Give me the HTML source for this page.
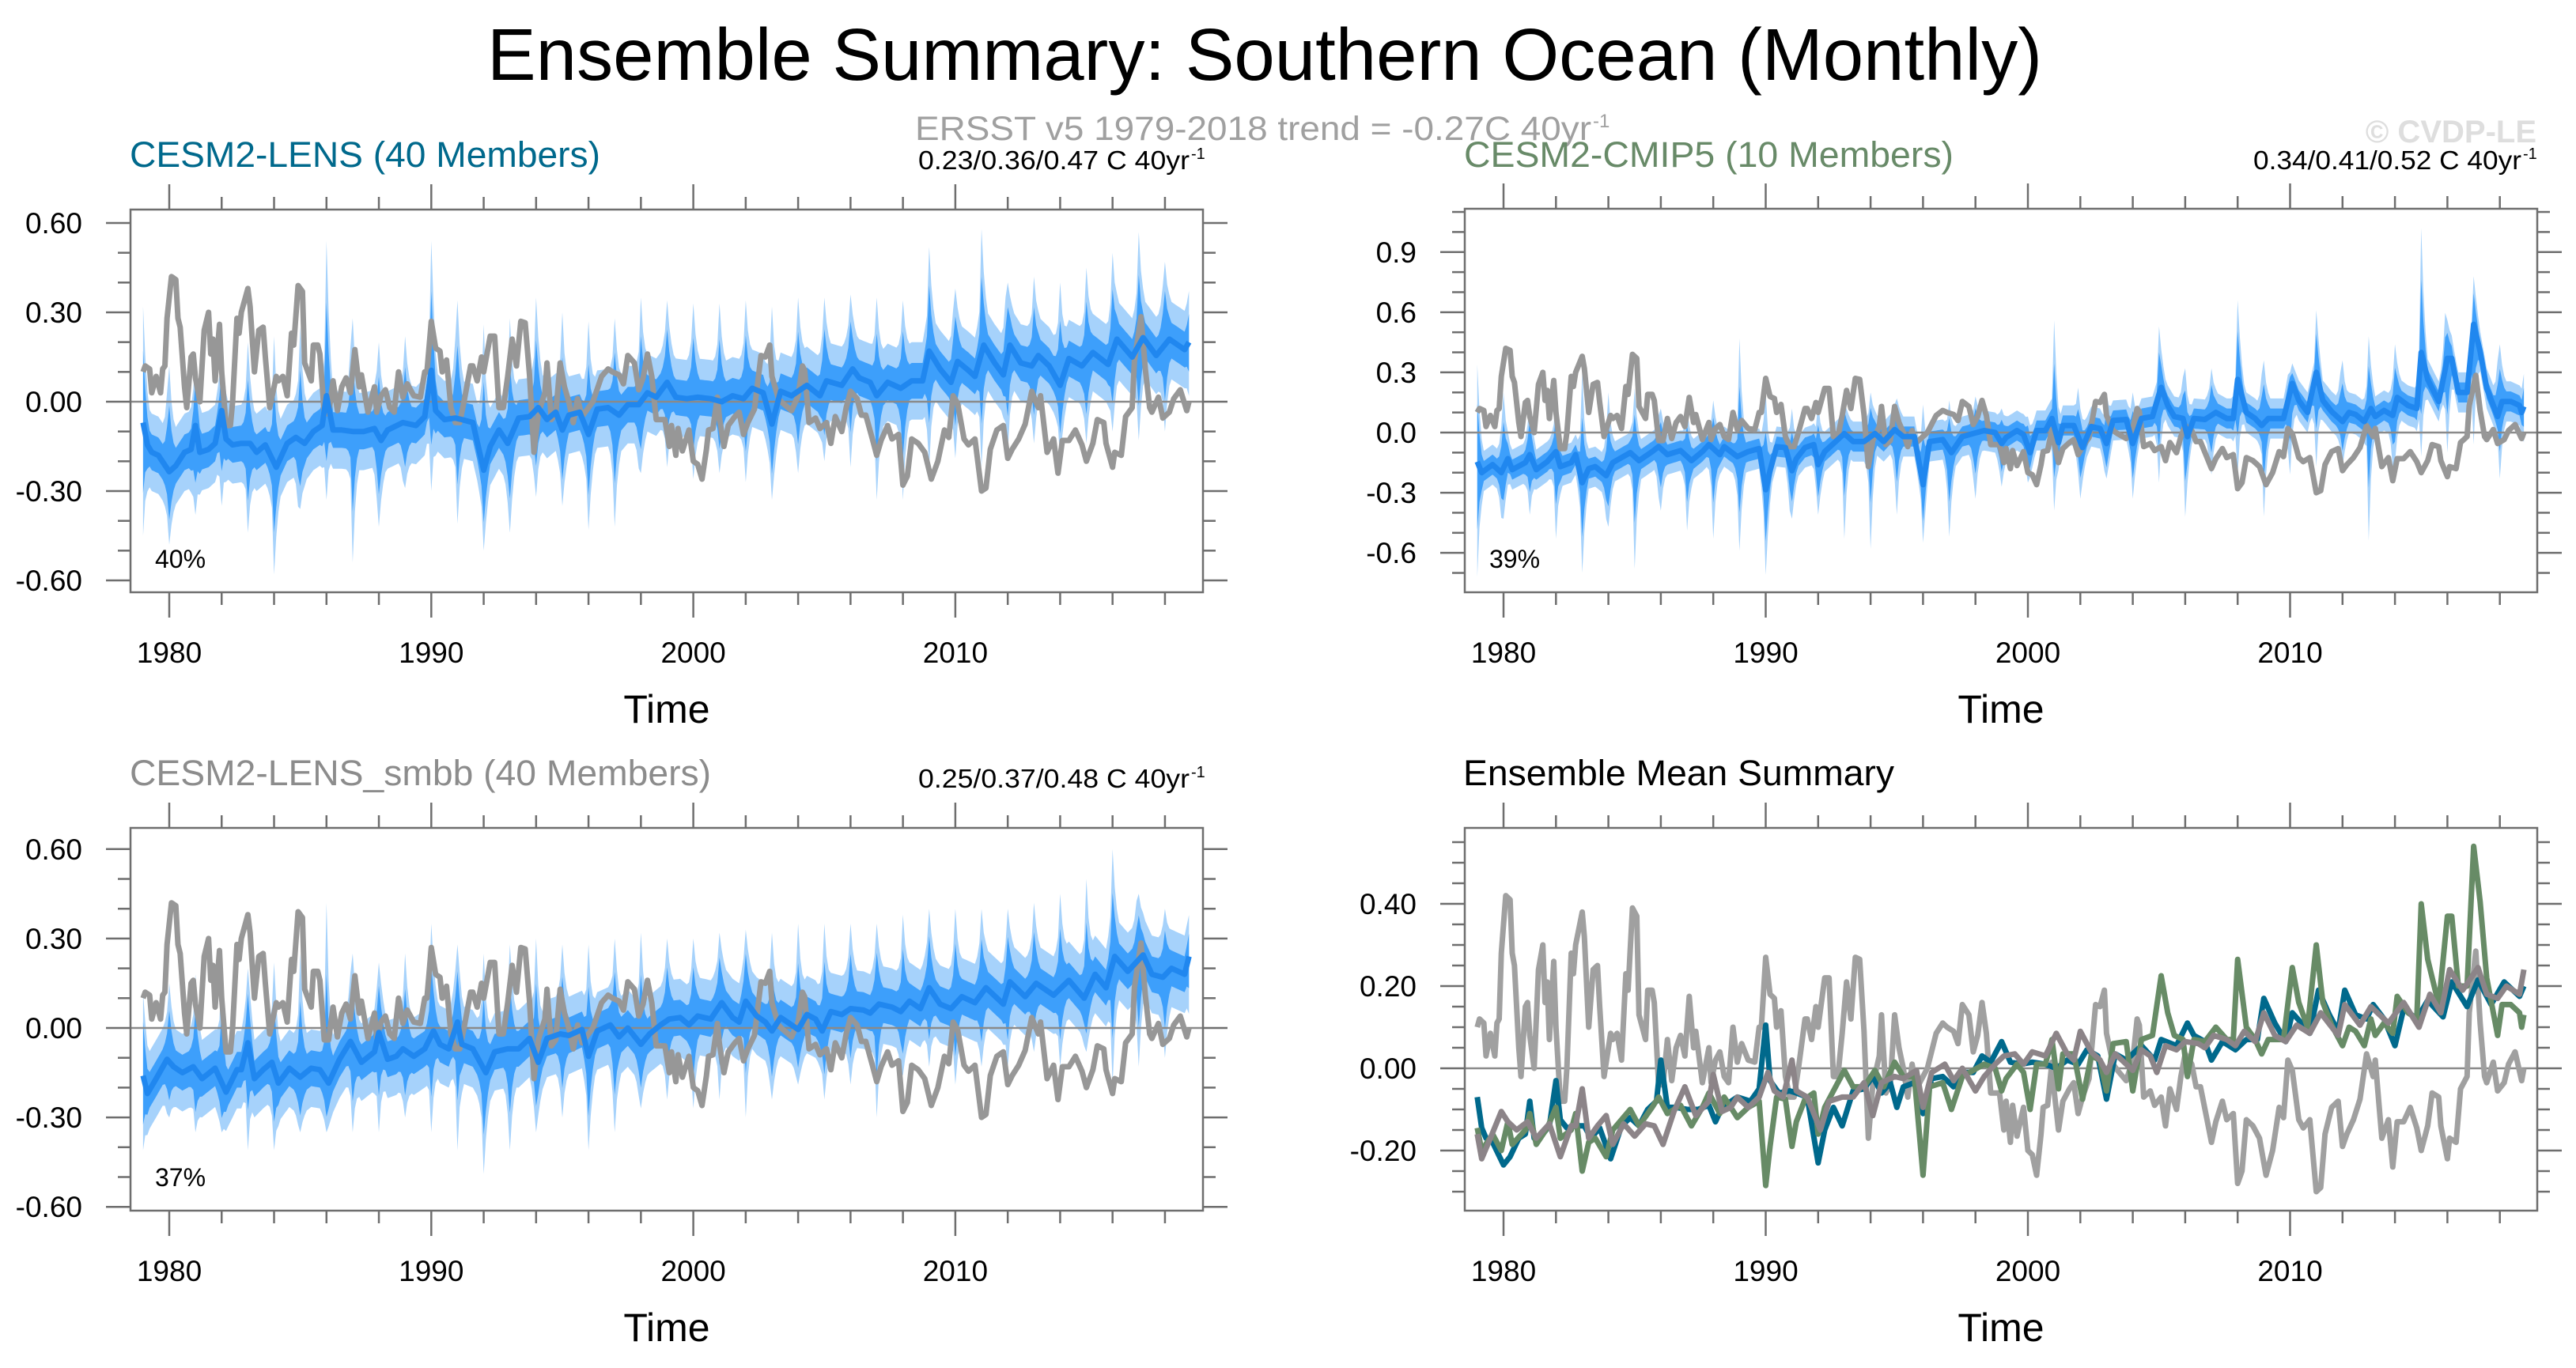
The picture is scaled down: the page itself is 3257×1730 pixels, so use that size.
<!DOCTYPE html>
<html><head><meta charset="utf-8"><title>Ensemble Summary: Southern Ocean (Monthly)</title>
<style>
html,body{margin:0;padding:0;background:#fff;}
svg{display:block;font-family:"Liberation Sans",Arial,sans-serif;}
</style></head>
<body>
<svg id="chart" width="3257" height="1730" viewBox="0 0 3257 1730" xmlns="http://www.w3.org/2000/svg">
<rect x="0" y="0" width="3257" height="1730" fill="#fff"/>
<text x="616" y="101" font-size="93" fill="#000" textLength="1966" lengthAdjust="spacingAndGlyphs">Ensemble Summary: Southern Ocean (Monthly)</text>
<text x="1157" y="177" font-size="43" fill="#a0a0a0" textLength="855" lengthAdjust="spacingAndGlyphs">ERSST v5 1979-2018 trend = -0.27C 40yr</text>
<text x="2014" y="161" font-size="24" fill="#a0a0a0">-1</text>
<text x="3207" y="180" font-size="40" font-weight="bold" fill="#dedede" text-anchor="end">© CVDP-LE</text>

<text x="164" y="211" font-size="45" fill="#00698c" textLength="595" lengthAdjust="spacingAndGlyphs">CESM2-LENS (40 Members)</text>
<text x="1161" y="214" font-size="33" fill="#000" textLength="343" lengthAdjust="spacingAndGlyphs">0.23/0.36/0.47 C 40yr</text>
<text x="1506" y="201" font-size="20" fill="#000">-1</text>
<text x="1851" y="211" font-size="45" fill="#688a68" textLength="619" lengthAdjust="spacingAndGlyphs">CESM2-CMIP5 (10 Members)</text>
<text x="2849" y="214" font-size="33" fill="#000" textLength="339" lengthAdjust="spacingAndGlyphs">0.34/0.41/0.52 C 40yr</text>
<text x="3190" y="201" font-size="20" fill="#000">-1</text>
<text x="164" y="993" font-size="45" fill="#8c8c8c" textLength="735" lengthAdjust="spacingAndGlyphs">CESM2-LENS_smbb (40 Members)</text>
<text x="1161" y="996" font-size="33" fill="#000" textLength="343" lengthAdjust="spacingAndGlyphs">0.25/0.37/0.48 C 40yr</text>
<text x="1506" y="983" font-size="20" fill="#000">-1</text>
<text x="1850" y="993" font-size="45" fill="#000" textLength="545" lengthAdjust="spacingAndGlyphs">Ensemble Mean Summary</text>
<g id="panels"></g>
</svg>
<script>
// ===== data =====
const xMajorYears = [1980, 1990, 2000, 2010];
const xMajorLabels = ["1980", "1990", "2000", "2010"];
const xMinorYears = [1982,1984,1986,1988,1992,1994,1996,1998,2002,2004,2006,2008,2012,2014,2016,2018];
const yTicksA = [-0.6, -0.3, 0, 0.3, 0.6];
const yLabelsA = ["-0.60", "-0.30", "0.00", "0.30", "0.60"];
const yTicksB = [-0.6, -0.3, 0, 0.3, 0.6, 0.9];
const yLabelsB = ["-0.6", "-0.3", "0.0", "0.3", "0.6", "0.9"];
const yTicksC = [-0.2, 0, 0.2, 0.4];
const yLabelsC = ["-0.20", "0.00", "0.20", "0.40"];
const pctLabels = ["40%", "39%", "37%"];

// ERSST v5 observations: month index since Jan 1979, value (C)
const obsMonth = [0,1,3,4,6,8,9,10,11,13,15,16,17,19,20,22,23,24,26,28,30,31,32,33,35,36,38,40,41,43,44,45,48,49,51,53,55,56,58,61,62,64,66,68,69,71,73,74,77,78,80,81,83,85,87,89,91,93,95,97,99,100,103,106,107,109,111,113,115,117,119,121,124,127,129,130,132,134,136,137,139,141,143,145,147,150,151,153,155,156,159,161,163,165,167,169,171,173,175,177,179,181,184,185,187,189,191,193,195,197,199,201,203,206,210,213,215,218,220,222,225,227,229,231,233,235,239,241,242,244,245,247,250,252,254,256,258,259,261,263,264,266,268,271,273,275,277,280,283,285,287,288,291,293,297,300,302,303,305,308,310,313,315,317,320,322,324,327,329,331,334,336,338,341,343,346,348,350,352,355,358,361,364,367,369,371,373,376,378,381,384,386,388,391,394,396,398,401,404,407,410,411,414,417,419,421,424,427,430,432,435,437,440,441,444,445,448,450,453,454,457,459,461,462,465,467,470,472,475,478,479];
const obsVal = [0.10,0.12,0.11,0.03,0.085,0.03,0.11,0.12,0.28,0.42,0.41,0.28,0.25,0.05,-0.02,0.15,0.16,0.08,0.0,0.24,0.30,0.16,0.21,0.07,0.26,0.10,-0.08,-0.08,0.0,0.28,0.23,0.30,0.38,0.32,0.10,0.24,0.25,0.15,-0.02,0.085,0.07,0.085,0.02,0.23,0.19,0.39,0.37,0.13,0.07,0.19,0.19,0.16,-0.04,-0.04,0.07,-0.03,0.05,0.08,0.03,0.175,0.05,0.09,-0.035,0.05,-0.035,0.02,0.04,-0.02,-0.035,0.10,0.015,0.06,0.02,0.015,0.10,0.10,0.27,0.18,0.17,0.10,0.14,-0.02,-0.07,-0.07,0.0,0.12,0.12,0.07,0.15,0.10,0.22,0.22,-0.02,-0.02,0.085,0.21,0.12,0.27,0.265,0.09,-0.17,-0.04,0.03,0.13,-0.06,-0.04,0.13,0.05,0.0,-0.07,0.01,-0.05,-0.03,0.0,0.085,0.11,0.10,0.09,0.06,0.155,0.13,0.04,0.08,0.16,0.085,-0.06,-0.06,-0.15,-0.08,-0.18,-0.09,-0.165,-0.095,-0.20,-0.21,-0.26,-0.16,-0.095,-0.09,0.015,-0.055,-0.15,-0.08,-0.05,-0.035,-0.11,-0.07,-0.025,0.155,0.15,0.19,0.085,0.01,-0.005,-0.03,0.02,0.12,0.105,-0.07,-0.055,-0.09,-0.07,-0.14,-0.05,-0.10,-0.02,0.035,0.01,-0.045,-0.045,-0.125,-0.18,-0.13,-0.08,-0.125,-0.11,-0.28,-0.25,-0.125,-0.14,-0.17,-0.26,-0.20,-0.095,-0.12,0.02,-0.005,-0.125,-0.145,-0.125,-0.30,-0.29,-0.16,-0.095,-0.08,-0.19,-0.16,-0.125,-0.075,0.035,-0.02,0.02,-0.17,-0.125,-0.24,-0.13,-0.13,-0.095,-0.145,-0.20,-0.14,-0.06,-0.07,-0.14,-0.22,-0.17,-0.18,-0.05,-0.02,0.135,0.285,0.11,-0.02,-0.035,0.015,-0.055,-0.035,0.01,0.04,-0.03,0.0];

// CESM2-LENS ensemble mean
const lensMonth = [0,2,4,7,12,15,19,22,24,26,30,33,36,38,41,45,49,52,56,61,66,70,74,78,82,84,87,91,96,101,106,109,112,119,125,129,132,134,138,143,146,151,156,159,163,167,172,177,181,185,189,192,195,200,204,208,213,218,222,227,231,235,240,244,249,254,260,265,270,275,279,284,288,292,297,304,310,313,320,325,328,333,336,341,347,352,357,360,365,370,373,378,381,385,390,394,397,402,407,410,415,420,424,430,435,442,446,453,458,464,470,477,479];
const lensVal = [-0.07,-0.145,-0.17,-0.18,-0.235,-0.215,-0.17,-0.16,-0.08,-0.17,-0.16,-0.14,-0.03,-0.125,-0.145,-0.14,-0.14,-0.17,-0.145,-0.22,-0.14,-0.12,-0.14,-0.10,-0.08,0.02,-0.095,-0.095,-0.10,-0.10,-0.09,-0.13,-0.095,-0.07,-0.08,-0.05,0.105,-0.03,-0.06,-0.055,-0.06,-0.07,-0.23,-0.15,-0.095,-0.14,-0.055,-0.05,-0.02,-0.06,-0.035,-0.095,-0.045,-0.035,-0.11,-0.025,-0.02,-0.045,-0.01,-0.01,0.03,0.015,0.065,0.015,0.01,0.015,0.01,0.0,0.02,0.01,0.045,0.03,-0.075,0.035,0.02,0.055,0.02,0.07,0.055,0.11,0.08,0.065,0.02,0.065,0.045,0.07,0.07,0.17,0.11,0.065,0.135,0.105,0.085,0.19,0.13,0.09,0.19,0.13,0.12,0.155,0.12,0.055,0.145,0.12,0.165,0.125,0.21,0.15,0.215,0.155,0.21,0.175,0.20];

// CESM2-CMIP5 ensemble mean
const cmipMonth = [0,2,7,11,14,16,22,24,27,32,36,38,43,45,48,51,54,59,62,70,74,80,83,87,93,98,103,106,111,113,119,124,129,132,134,137,141,144,146,150,154,156,159,164,168,172,177,182,186,191,195,200,204,207,213,217,222,227,232,237,240,242,247,250,253,256,260,263,266,268,273,277,281,285,288,291,297,300,304,309,313,316,319,323,325,328,333,338,343,346,348,352,356,359,362,369,373,376,380,384,387,391,396,399,402,406,409,411,415,419,421,426,430,432,435,440,444,446,449,453,456,459,462,467,469,473,477,478,479];
const cmipVal = [-0.145,-0.20,-0.16,-0.20,-0.13,-0.185,-0.15,-0.11,-0.185,-0.145,-0.095,-0.17,-0.15,-0.11,-0.25,-0.18,-0.17,-0.215,-0.15,-0.10,-0.14,-0.095,-0.07,-0.11,-0.09,-0.14,-0.095,-0.06,-0.11,-0.07,-0.12,-0.095,-0.08,-0.285,-0.19,-0.07,-0.075,-0.19,-0.13,-0.075,-0.06,-0.16,-0.095,-0.045,-0.005,-0.045,-0.045,-0.005,-0.045,0.015,-0.02,-0.02,-0.26,-0.045,-0.035,-0.10,-0.02,-0.005,0.01,0.0,-0.055,-0.025,0.01,-0.01,-0.10,0.01,0.01,0.07,-0.05,0.035,0.035,-0.075,0.03,0.02,-0.055,0.06,0.065,-0.055,0.07,0.08,0.225,0.135,0.08,0.07,-0.02,0.07,0.065,0.10,0.07,0.07,0.265,0.10,0.07,0.035,0.07,0.07,0.245,0.16,0.10,0.30,0.16,0.105,0.055,0.10,0.09,0.055,0.12,0.08,0.11,0.085,0.175,0.135,0.12,0.40,0.265,0.155,0.37,0.37,0.20,0.20,0.54,0.405,0.22,0.08,0.155,0.155,0.135,0.10,0.13];

// CESM2-LENS_smbb ensemble mean
const smbbMonth = [0,2,6,11,14,18,23,27,33,38,43,45,48,51,55,59,62,67,72,77,81,85,90,95,100,106,108,112,116,119,124,129,133,136,140,144,146,151,157,161,167,172,177,181,185,191,195,201,204,208,214,218,222,228,232,237,241,246,250,254,260,265,270,273,276,281,285,288,292,296,300,304,308,311,315,320,324,330,333,337,343,347,351,356,360,365,370,375,381,386,394,397,404,409,417,424,431,436,441,445,451,458,462,467,471,477,479];
const smbbVal = [-0.16,-0.22,-0.17,-0.105,-0.13,-0.15,-0.13,-0.17,-0.135,-0.215,-0.14,-0.14,-0.05,-0.17,-0.14,-0.115,-0.185,-0.135,-0.165,-0.135,-0.14,-0.185,-0.105,-0.045,-0.115,-0.08,-0.015,-0.105,-0.095,-0.07,-0.095,-0.07,-0.01,-0.055,-0.07,0.02,-0.055,-0.07,-0.15,-0.08,-0.07,-0.07,-0.035,-0.115,-0.035,-0.02,-0.025,-0.005,-0.095,-0.01,0.01,-0.03,0.0,-0.055,-0.02,0.01,0.03,0.035,0.01,0.04,0.03,0.085,0.035,0.02,0.09,0.04,0.02,-0.01,0.035,0.015,-0.005,0.045,0.03,-0.01,0.055,0.045,0.065,0.06,0.05,0.08,0.07,0.055,0.09,0.065,0.135,0.08,0.065,0.105,0.085,0.135,0.08,0.155,0.105,0.15,0.11,0.16,0.10,0.18,0.135,0.24,0.19,0.245,0.18,0.17,0.20,0.18,0.24];

// annual spread extremes per year 1979..2018
const lensLo = [-0.45,-0.48,-0.38,-0.35,-0.44,-0.58,-0.36,-0.33,-0.54,-0.42,-0.29,-0.30,-0.41,-0.50,-0.44,-0.32,-0.35,-0.43,-0.42,-0.24,-0.22,-0.26,-0.24,-0.27,-0.33,-0.24,-0.20,-0.22,-0.33,-0.33,-0.22,-0.19,-0.22,-0.17,-0.14,-0.19,-0.14,-0.10,-0.13,-0.10];
const lensHi = [0.32,0.12,0.15,0.18,0.20,0.22,0.25,0.54,0.28,0.20,0.22,0.54,0.34,0.26,0.28,0.35,0.30,0.27,0.28,0.35,0.34,0.33,0.33,0.34,0.32,0.35,0.35,0.36,0.35,0.34,0.52,0.38,0.58,0.40,0.42,0.40,0.45,0.50,0.57,0.47];
const cmipLo = [-0.72,-0.43,-0.41,-0.53,-0.70,-0.47,-0.68,-0.39,-0.49,-0.53,-0.59,-0.71,-0.43,-0.41,-0.53,-0.58,-0.41,-0.55,-0.52,-0.33,-0.27,-0.25,-0.39,-0.33,-0.23,-0.33,-0.25,-0.42,-0.21,-0.21,-0.42,-0.21,-0.17,-0.17,-0.54,-0.15,-0.12,-0.10,-0.06,-0.23];
const cmipHi = [0.34,0.20,0.16,0.20,0.30,0.20,0.22,0.12,0.12,0.16,0.47,0.20,0.12,0.16,0.16,0.20,0.17,0.14,0.16,0.18,0.12,0.08,0.56,0.12,0.20,0.20,0.53,0.32,0.32,0.66,0.36,0.30,0.61,0.36,0.48,0.44,1.02,0.56,0.78,0.44];
const smbbLo = [-0.41,-0.30,-0.35,-0.35,-0.41,-0.41,-0.35,-0.35,-0.35,-0.35,-0.30,-0.35,-0.41,-0.49,-0.41,-0.35,-0.30,-0.41,-0.35,-0.27,-0.24,-0.27,-0.24,-0.30,-0.24,-0.19,-0.24,-0.19,-0.30,-0.16,-0.13,-0.19,-0.13,-0.13,-0.08,-0.13,-0.08,-0.19,-0.13,-0.10];
const smbbHi = [0.12,0.15,0.18,0.20,0.20,0.22,0.25,0.42,0.25,0.22,0.25,0.35,0.28,0.25,0.28,0.30,0.28,0.28,0.30,0.32,0.30,0.30,0.32,0.33,0.32,0.35,0.35,0.35,0.35,0.38,0.40,0.40,0.40,0.40,0.42,0.45,0.50,0.60,0.45,0.40];

// ===== drawing =====
const NS = "http://www.w3.org/2000/svg";
const root = document.getElementById("panels");
const spikeW = [1,0.45,0.15,0,0,0,0,0,0,0,0.08,0.3];

function mk(tag, attrs, parent) {
  const e = document.createElementNS(NS, tag);
  for (const k in attrs) e.setAttribute(k, attrs[k]);
  parent.appendChild(e);
  return e;
}
function interp(ms, vs, m) {
  if (m <= ms[0]) return vs[0];
  for (let i = 1; i < ms.length; i++) {
    if (m <= ms[i]) { const f = (m - ms[i-1]) / (ms[i] - ms[i-1]); return vs[i-1] + f * (vs[i] - vs[i-1]); }
  }
  return vs[vs.length - 1];
}

function makePanel(p) {
  const g = mk("g", {}, root);
  
  
  const xs = t => p.x1980 + (t - 1980) * p.ppy;
  const xm = m => xs(1979 + m / 12);
  const ys = v => p.y0 - v * p.ppu;
  const right = p.bx + p.bw, bottom = p.by + p.bh;

  const cid = "clip-" + p.name;
  const cp = mk("clipPath", {id: cid}, g);
  mk("rect", {x: p.bx, y: p.by, width: p.bw, height: p.bh}, cp);
  const data = mk("g", {"clip-path": "url(#" + cid + ")"}, g);

  if (p.band) {
    const b = p.band;
    const lu = [], ll = [], du = [], dl = [];
    for (let m = 0; m < 480; m++) {
      const mv = interp(b.mM, b.mV, m);
      const yr = Math.floor(m / 12), w = spikeW[m % 12];
      const hiL = mv + b.baseL, loL = mv - b.baseL;
      const hiD = mv + b.baseD, loD = mv - b.baseD;
      lu.push([xm(m), ys(hiL + w * Math.max(0, b.hi[yr] - hiL))]);
      ll.push([xm(m), ys(loL - w * Math.max(0, loL - b.lo[yr]))]);
      du.push([xm(m), ys(hiD + w * 0.55 * Math.max(0, b.hi[yr] - hiD))]);
      dl.push([xm(m), ys(loD - w * 0.55 * Math.max(0, loD - b.lo[yr]))]);
    }
    const poly = (u, l) => u.concat(l.slice().reverse()).map(q => q[0].toFixed(1) + "," + q[1].toFixed(1)).join(" ");
    const light = mk("polygon", {points: poly(lu, ll), fill: "#a6d2fb"}, data);
    
    
    const dark = mk("polygon", {points: poly(du, dl), fill: "#3d9ffb"}, data);
    
    
  }
  const z = mk("line", {x1: p.bx, x2: right, y1: ys(0), y2: ys(0), stroke: "#8a8a8a", "stroke-width": 2.5}, data);
  
  

  p.lines.forEach(L => {
    const pts = L.m.map((m, i) => xm(m).toFixed(1) + "," + ys(L.v[i]).toFixed(1)).join(" ");
    const pl = mk("polyline", {points: pts, fill: "none", stroke: L.color, "stroke-width": L.w, "stroke-linejoin": "round"}, data);
    
    
  });

  const fr = mk("rect", {x: p.bx, y: p.by, width: p.bw, height: p.bh, fill: "none", stroke: "#6e6e6e", "stroke-width": 2.5}, g);
  
  

  const tk = {stroke: "#6e6e6e", "stroke-width": 2.5};
  xMajorYears.forEach((yr, i) => {
    const x = xs(yr);
    mk("line", Object.assign({x1: x, x2: x, y1: p.by, y2: p.by - 32}, tk), g);
    mk("line", Object.assign({x1: x, x2: x, y1: bottom, y2: bottom + 32}, tk), g);
    const t = mk("text", {x: x, y: bottom + 89, "font-size": 37, "text-anchor": "middle", fill: "#000"}, g);
    t.textContent = xMajorLabels[i];
    
    
  });
  xMinorYears.forEach(yr => {
    const x = xs(yr);
    mk("line", Object.assign({x1: x, x2: x, y1: p.by, y2: p.by - 16}, tk), g);
    mk("line", Object.assign({x1: x, x2: x, y1: bottom, y2: bottom + 16}, tk), g);
  });
  p.yTicks.forEach((v, i) => {
    const y = ys(v);
    mk("line", Object.assign({x1: p.bx, x2: p.bx - 31, y1: y, y2: y}, tk), g);
    mk("line", Object.assign({x1: right, x2: right + 31, y1: y, y2: y}, tk), g);
    const t = mk("text", {x: p.bx - 61, y: y + 13, "font-size": 37, "text-anchor": "end", fill: "#000"}, g);
    t.textContent = p.yLabels[i];
    
    
  });
  for (let k = Math.round(p.minLo / p.minStep); k <= Math.round(p.minHi / p.minStep); k++) {
    const v = k * p.minStep;
    if (p.yTicks.some(t => Math.abs(t - v) < 1e-6)) continue;
    const y = ys(v);
    if (y < p.by || y > bottom) continue;
    mk("line", Object.assign({x1: p.bx, x2: p.bx - 16, y1: y, y2: y}, tk), g);
    mk("line", Object.assign({x1: right, x2: right + 16, y1: y, y2: y}, tk), g);
  }
  const tt = mk("text", {x: p.bx + p.bw / 2, y: bottom + 165, "font-size": 50, "text-anchor": "middle", fill: "#000"}, g);
  tt.textContent = "Time";
  
  
  if (p.pct) {
    const pt = mk("text", {x: p.bx + 31, y: bottom - 31, "font-size": 32, fill: "#000"}, g);
    pt.textContent = p.pct;
    
    
  }
}

const obsLine = {m: obsMonth, v: obsVal, color: "#979797", w: 7, name: "ersst-observed-line"};
makePanel({name: "cesm2-lens-panel", bx: 165, by: 265, bw: 1356, bh: 484, x1980: 214, ppy: 33.13, y0: 508, ppu: 376.7,
  yTicks: yTicksA, yLabels: yLabelsA, minLo: -0.6, minHi: 0.6, minStep: 0.1, pct: pctLabels[0],
  band: {mM: lensMonth, mV: lensVal, lo: lensLo, hi: lensHi, baseL: 0.13, baseD: 0.06},
  lines: [obsLine, {m: lensMonth, v: lensVal, color: "#2087ef", w: 7, name: "ensemble-mean-line"}]});
makePanel({name: "cesm2-cmip5-panel", bx: 1852, by: 264, bw: 1356, bh: 485, x1980: 1901, ppy: 33.15, y0: 547, ppu: 253.6,
  yTicks: yTicksB, yLabels: yLabelsB, minLo: -0.7, minHi: 1.1, minStep: 0.1, pct: pctLabels[1],
  band: {mM: cmipMonth, mV: cmipVal, lo: cmipLo, hi: cmipHi, baseL: 0.10, baseD: 0.05},
  lines: [obsLine, {m: cmipMonth, v: cmipVal, color: "#2087ef", w: 7, name: "ensemble-mean-line"}]});
makePanel({name: "cesm2-lens-smbb-panel", bx: 165, by: 1047, bw: 1356, bh: 484, x1980: 214, ppy: 33.13, y0: 1300, ppu: 377,
  yTicks: yTicksA, yLabels: yLabelsA, minLo: -0.6, minHi: 0.6, minStep: 0.1, pct: pctLabels[2],
  band: {mM: smbbMonth, mV: smbbVal, lo: smbbLo, hi: smbbHi, baseL: 0.13, baseD: 0.06},
  lines: [obsLine, {m: smbbMonth, v: smbbVal, color: "#2087ef", w: 7, name: "ensemble-mean-line"}]});
makePanel({name: "ensemble-mean-summary-panel", bx: 1852, by: 1047, bw: 1356, bh: 484, x1980: 1901, ppy: 33.15, y0: 1351, ppu: 520,
  yTicks: yTicksC, yLabels: yLabelsC, minLo: -0.3, minHi: 0.55, minStep: 0.05, pct: null, band: null,
  lines: [{m: obsMonth, v: obsVal, color: "#a0a0a0", w: 7, name: "ersst-observed-line"},
          {m: lensMonth, v: lensVal, color: "#00698c", w: 7, name: "cesm2-lens-mean-line"},
          {m: cmipMonth, v: cmipVal, color: "#678b66", w: 7, name: "cesm2-cmip5-mean-line"},
          {m: smbbMonth, v: smbbVal, color: "#8c8488", w: 7, name: "cesm2-lens-smbb-mean-line"}]});
</script>
</body></html>
